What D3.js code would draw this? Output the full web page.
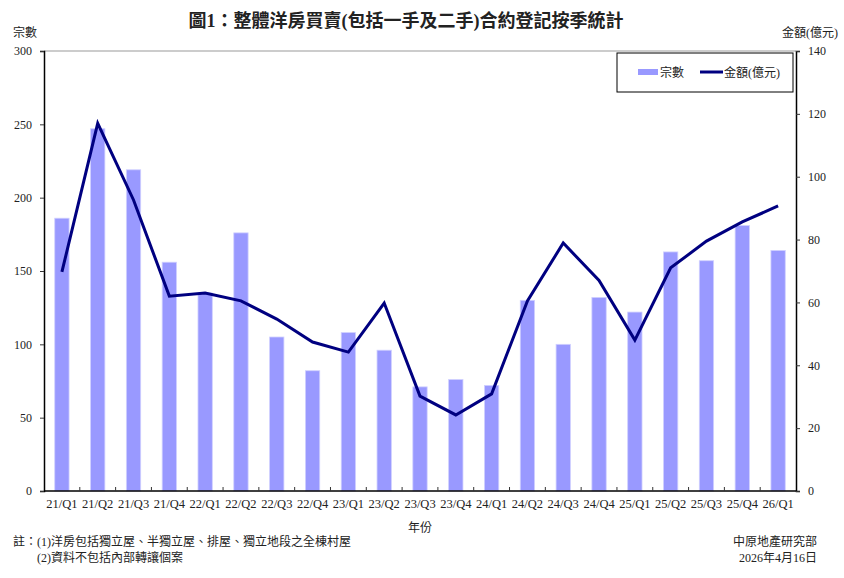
<!DOCTYPE html>
<html>
<head>
<meta charset="utf-8">
<script src="https://cdn.jsdelivr.net/npm/d3@7"></script>
<style>
  body { margin: 0; background: white; }
  text { font-family: "Liberation Serif", "Noto Sans CJK TC", serif; fill: #222; }
</style>
</head>
<body>
<div id="vis"></div>
<script>
// data
const quarters = ["21/Q1", "21/Q2", "21/Q3", "21/Q4", "22/Q1", "22/Q2", "22/Q3", "22/Q4",
  "23/Q1", "23/Q2", "23/Q3", "23/Q4", "24/Q1", "24/Q2", "24/Q3", "24/Q4",
  "25/Q1", "25/Q2", "25/Q3", "25/Q4", "26/Q1"];
const counts = [186, 247, 219, 156, 135, 176, 105, 82, 108, 96, 71, 76, 72, 130, 100, 132, 122, 163, 157, 181, 164];
const amounts = [69.7, 117, 92.6, 62, 63, 60.5, 54.7, 47.4, 44.2, 59.8, 30.2, 24.2, 30.9, 60.5, 78.9, 67, 48, 71, 79.5, 85.6, 90.7];
const leftTicks = [0, 50, 100, 150, 200, 250, 300];
const rightTicks = [0, 20, 40, 60, 80, 100, 120, 140];

let width = 844;
let height = 578;
let margin = { top: 51, bottom: 87, left: 44, right: 48 };

let svg = d3.select("#vis")
  .append("svg")
  .attr("width", width)
  .attr("height", height)
  .style("background", "white");

let xScale = d3.scaleBand()
  .domain(quarters)
  .range([margin.left, width - margin.right])
  .paddingInner(0.6)
  .paddingOuter(0.3);

let yLeft = d3.scaleLinear()
  .domain([0, 300])
  .range([height - margin.bottom, margin.top]);

let yRight = d3.scaleLinear()
  .domain([0, 140])
  .range([height - margin.bottom, margin.top]);

// top frame line
svg.append("line")
  .attr("x1", margin.left).attr("x2", width - margin.right)
  .attr("y1", margin.top).attr("y2", margin.top)
  .attr("stroke", "#999").attr("stroke-width", 1);

// bars
svg.selectAll("rect.bar")
  .data(counts)
  .enter()
  .append("rect")
  .attr("class", "bar")
  .attr("x", (d, i) => xScale(quarters[i]))
  .attr("y", d => yLeft(d))
  .attr("width", xScale.bandwidth())
  .attr("height", d => yLeft(0) - yLeft(d))
  .attr("fill", "#9999ff")
  .attr("stroke", "#d0d0ff")
  .attr("stroke-width", 0.8);

// line
let line = d3.line()
  .x((d, i) => xScale(quarters[i]) + xScale.bandwidth() / 2)
  .y(d => yRight(d));

svg.append("path")
  .datum(amounts)
  .attr("d", line)
  .attr("fill", "none")
  .attr("stroke", "#000080")
  .attr("stroke-width", 3)
  .attr("stroke-linejoin", "miter");

// axes
let leftAxis = svg.append("g")
  .attr("transform", `translate(${margin.left}, 0)`)
  .call(d3.axisLeft(yLeft).tickValues(leftTicks).tickSize(4).tickPadding(8));

let rightAxis = svg.append("g")
  .attr("transform", `translate(${width - margin.right}, 0)`)
  .call(d3.axisRight(yRight).tickValues(rightTicks).tickSize(4).tickPadding(8));

[leftAxis, rightAxis].forEach(function(g) {
  g.select(".domain").attr("stroke", "#000").attr("stroke-width", 1.5);
  g.selectAll(".tick line").attr("stroke", "#333");
  g.selectAll(".tick text")
    .style("font-family", "Liberation Serif")
    .style("font-size", "12px")
    .attr("fill", "#222");
});

// bottom axis with ticks between categories
let bottom = height - margin.bottom;
svg.append("line")
  .attr("x1", margin.left).attr("x2", width - margin.right)
  .attr("y1", bottom).attr("y2", bottom)
  .attr("stroke", "#000").attr("stroke-width", 1.5);

let step = xScale.step();
svg.selectAll("line.sep")
  .data(quarters.slice(1))
  .enter()
  .append("line")
  .attr("class", "sep")
  .attr("x1", d => xScale(d) - step * xScale.paddingInner() / 2)
  .attr("x2", d => xScale(d) - step * xScale.paddingInner() / 2)
  .attr("y1", bottom)
  .attr("y2", bottom - 4)
  .attr("stroke", "#333");

svg.selectAll("text.xlab")
  .data(quarters)
  .enter()
  .append("text")
  .attr("class", "xlab")
  .attr("x", d => xScale(d) + xScale.bandwidth() / 2)
  .attr("y", bottom + 17)
  .attr("text-anchor", "middle")
  .style("font-size", "12.5px")
  .text(d => d);

// title
svg.append("text")
  .attr("x", 406)
  .attr("y", 27)
  .attr("text-anchor", "middle")
  .style("font-size", "18px")
  .style("font-weight", "bold")
  .text("圖1：整體洋房買賣(包括一手及二手)合約登記按季統計");

// axis titles
svg.append("text")
  .attr("x", 13).attr("y", 37)
  .style("font-size", "12px")
  .text("宗數");

svg.append("text")
  .attr("x", 838).attr("y", 37)
  .attr("text-anchor", "end")
  .style("font-size", "12px")
  .text("金額(億元)");

svg.append("text")
  .attr("x", 420).attr("y", 532)
  .attr("text-anchor", "middle")
  .style("font-size", "12px")
  .text("年份");

// legend
svg.append("rect")
  .attr("x", 617).attr("y", 53)
  .attr("width", 176).attr("height", 39)
  .attr("fill", "white")
  .attr("stroke", "#000").attr("stroke-width", 1);

svg.append("rect")
  .attr("x", 638).attr("y", 69)
  .attr("width", 20).attr("height", 6)
  .attr("fill", "#9999ff");

svg.append("text")
  .attr("x", 660).attr("y", 77)
  .style("font-size", "12px")
  .text("宗數");

svg.append("line")
  .attr("x1", 700).attr("x2", 723)
  .attr("y1", 72).attr("y2", 72)
  .attr("stroke", "#000080").attr("stroke-width", 3);

svg.append("text")
  .attr("x", 724).attr("y", 77)
  .style("font-size", "12px")
  .text("金額(億元)");

// footnotes
svg.append("text")
  .attr("x", 13).attr("y", 546)
  .style("font-size", "12px")
  .text("註：(1)洋房包括獨立屋、半獨立屋、排屋、獨立地段之全棟村屋");

svg.append("text")
  .attr("x", 37).attr("y", 562)
  .style("font-size", "12px")
  .text("(2)資料不包括內部轉讓個案");

svg.append("text")
  .attr("x", 817).attr("y", 546)
  .attr("text-anchor", "end")
  .style("font-size", "12px")
  .text("中原地產研究部");

svg.append("text")
  .attr("x", 817).attr("y", 562)
  .attr("text-anchor", "end")
  .style("font-size", "12px")
  .text("2026年4月16日");
</script>
</body>
</html>
